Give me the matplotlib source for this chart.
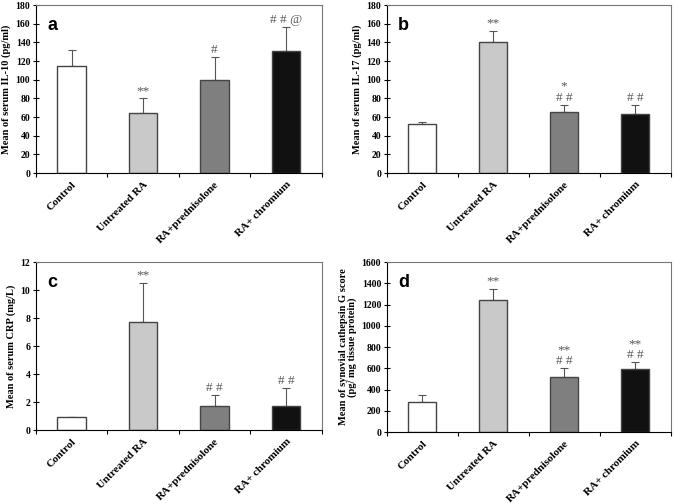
import matplotlib
matplotlib.use("Agg")
import matplotlib.pyplot as plt
import numpy as np

groups = ["Control", "Untreated RA", "RA+prednisolone", "RA+ chromium"]
bar_colors = ["#ffffff", "#c9c9c9", "#7f7f7f", "#111111"]

# panel a: serum IL-10
il10_mean = [115, 64, 100, 131]
il10_err = [17, 16, 24, 25]
il10_marks = ["", "**", "#", "# # @"]

# panel b: serum IL-17
il17_mean = [52, 140, 65, 63]
il17_err = [3, 12, 8, 10]
il17_marks = ["", "**", "*\n# #", "# #"]

# panel c: serum CRP
crp_mean = [0.9, 7.7, 1.7, 1.7]
crp_err = [0.05, 2.8, 0.8, 1.3]
crp_marks = ["", "**", "# #", "# #"]

# panel d: synovial cathepsin G
catg_mean = [280, 1240, 520, 590]
catg_err = [65, 110, 80, 65]
catg_marks = ["", "**", "**\n# #", "**\n# #"]

serif = "Liberation Serif"

panels = [
    ("a", il10_mean, il10_err, il10_marks, 180, 20, "Mean of serum IL-10 (pg/ml)", [0.053, 0.656, 0.423, 0.334]),
    ("b", il17_mean, il17_err, il17_marks, 180, 20, "Mean of serum IL-17 (pg/ml)", [0.572, 0.656, 0.420, 0.334]),
    ("c", crp_mean, crp_err, crp_marks, 12, 2, "Mean of serum CRP (mg/L)", [0.053, 0.145, 0.423, 0.334]),
    ("d", catg_mean, catg_err, catg_marks, 1600, 200,
     "Mean of synovial cathepsin G score\n(pg/ mg tissue protein)", [0.572, 0.141, 0.420, 0.338]),
]

fig = plt.figure(figsize=(6.76, 5.03), dpi=100)

for letter, mean, err, marks, ymax, ystep, ylabel, rect in panels:
    ax = fig.add_axes(rect)
    x = np.arange(len(groups))
    ax.bar(x, mean, width=0.4, color=bar_colors, edgecolor="#444444", linewidth=1.0, zorder=2)
    ax.errorbar(x, mean, yerr=[np.zeros(len(err)), err], fmt="none", ecolor="#555555",
                elinewidth=0.8, capsize=3, capthick=0.8, zorder=1)
    for xi, m, e, t in zip(x, mean, err, marks):
        if t:
            ax.annotate(t, (xi, m + e), xytext=(0, 1), textcoords="offset points",
                        ha="center", va="bottom", fontsize=9.5, family=serif,
                        color="#555555", linespacing=0.9)
    ax.set_xlim(-0.5, 3.5)
    ax.set_ylim(0, ymax)
    ax.set_yticks(np.arange(0, ymax + ystep / 2, ystep))
    ax.set_xticks(np.arange(-0.5, 4, 1), minor=False)
    ax.set_xticklabels([])
    ax.set_xticks(x, minor=True)
    ax.set_xticklabels(groups, minor=True, rotation=45, ha="right", rotation_mode="anchor",
                       fontsize=8, family=serif, fontweight="bold")
    ax.tick_params(axis="x", which="minor", length=0, pad=5)
    ax.tick_params(axis="x", which="major", direction="out", length=3, width=0.8)
    ax.tick_params(axis="y", direction="inout", length=4, width=0.8, labelsize=7, pad=2)
    for lab in ax.get_yticklabels():
        lab.set_family(serif)
        lab.set_fontweight("bold")
    ax.set_ylabel(ylabel, fontsize=7.5, family=serif, fontweight="bold", labelpad=3, linespacing=1.0)
    ax.spines["left"].set_color("black")
    ax.spines["bottom"].set_color("black")
    ax.spines["top"].set_color("#777777")
    ax.spines["right"].set_color("#777777")
    ax.text(0.04, 0.93, letter, transform=ax.transAxes, fontsize=13, fontweight="bold",
            family="Liberation Sans", ha="left", va="top")

plt.savefig("out.png", dpi=100)
plt.close()
